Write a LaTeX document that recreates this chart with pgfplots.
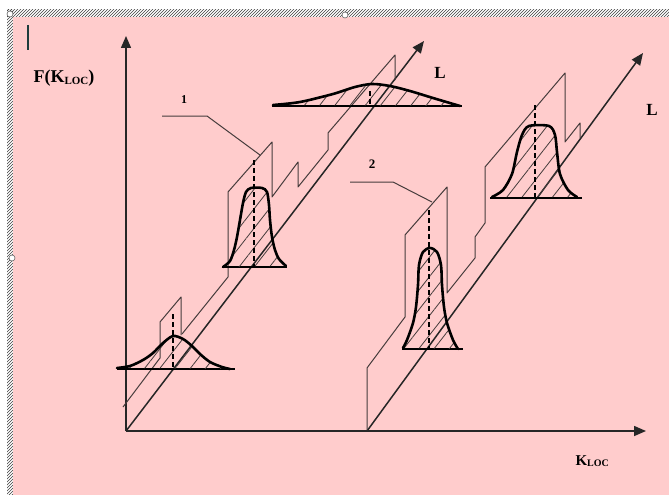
\documentclass[border=0pt]{standalone}
\usepackage{fontspec}
\setmainfont{Liberation Serif}
\usepackage{pgfplots}
\pgfplotsset{compat=1.18}
\usetikzlibrary{arrows.meta,patterns,patterns.meta}
\definecolor{bgpink}{RGB}{255,204,204}
\definecolor{thin}{RGB}{70,60,60}
\definecolor{cursorc}{RGB}{30,60,60}

\begin{document}
\begin{tikzpicture}
\begin{axis}[
  width=669pt, height=495pt, scale only axis,
  xmin=0, xmax=669, ymin=0, ymax=495, y dir=reverse,
  hide axis, clip=false,
  plate/.style={draw=thin, line width=1pt, line join=round},
  bell/.style={draw=black, line width=2.6pt, smooth, tension=0.5, line cap=round,
    pattern={Lines[angle=52,distance=12pt,line width=0.8pt]}, pattern color=thin},
  base/.style={draw=black, line width=1.2pt},
  peak/.style={draw=black, line width=1.7pt, dash pattern=on 5pt off 3pt},
  ax/.style={draw=black!85, line width=1.5pt, -{Triangle[length=12pt,width=10pt]}},
]
% page and frame
\addplot[fill=white, draw=none] coordinates {(0,0) (669,0) (669,495) (0,495)};
\addplot[fill=white, draw=none, pattern=north east lines, pattern color=black!75] coordinates {(7,10) (669,10) (669,17) (7,17)};
\addplot[fill=white, draw=none, pattern=north east lines, pattern color=black!75] coordinates {(7,10) (13,10) (13,495) (7,495)};
\addplot[fill=bgpink, draw=none] coordinates {(13,17) (669,17) (669,495) (13,495)};
\addplot[only marks, mark=*, mark size=3pt, mark options={fill=white, draw=black!60, line width=0.6pt}] coordinates {(345,15) (12,258) (10,14)};
% text cursor
\addplot[draw=cursorc, line width=1.6pt] coordinates {(28,25) (28,50)};

% axes
\addplot[ax] coordinates {(126,431) (126,36)};
\addplot[ax] coordinates {(126,431) (646,431)};
\addplot[ax] coordinates {(126,431) (424,41)};
\addplot[ax] coordinates {(367,431) (643,53)};

% plates, left group
\addplot[plate] coordinates {(123,407) (160,358) (160,322) (181,297) (181,335)};
\addplot[plate] coordinates {(182,334) (228,277) (228,192) (272,142) (272,197) (298,162) (298,187) (328,150) (328,133) (395,55) (395,80)};
% plates, right group
\addplot[plate] coordinates {(367,430) (367,368) (405,317) (405,235) (447,187) (447,293) (475,258) (475,237) (485,223) (485,167) (565,73) (565,142) (580,123) (580,138)};
% leader lines
\addplot[plate] coordinates {(162,116) (207,116) (260,155)};
\addplot[plate] coordinates {(350,182) (393,182) (432,202)};

% distribution bases
\addplot[base] coordinates {(117,369) (235,369)};
\addplot[base] coordinates {(223,267) (287,267)};
\addplot[base] coordinates {(272,106) (462,106)};
\addplot[base] coordinates {(402,349) (463,349)};
\addplot[base] coordinates {(490,198) (582,198)};

% distributions
\addplot[bell] coordinates {(117,368) (130,366) (143,360) (153,353) (163,343) (173,336) (183,339) (192,346) (200,354) (210,362) (222,367) (230,369)};
\addplot[bell] coordinates {(223,267) (230,261) (234,250) (237,237) (240,220) (243,203) (246,192) (251,188) (262,188) (267,192) (269,205) (270,220) (272,237) (275,250) (279,259) (286,266)};
\addplot[bell] coordinates {(273,105) (300,102) (333,94) (355,87) (372,84) (390,86) (410,91) (433,98) (460,106)};
\addplot[bell] coordinates {(403,348) (407,340) (413,323) (416,307) (418,285) (419,265) (423,252) (430,248) (437,252) (441,265) (442,285) (444,307) (447,323) (453,340) (458,349)};
\addplot[bell] coordinates {(492,197) (503,190) (512,174) (517,152) (522,135) (529,126) (549,126) (555,135) (557,152) (560,174) (568,190) (577,197)};

% centre lines
\addplot[peak] coordinates {(173,314) (173,370)};
\addplot[peak] coordinates {(254,160) (254,267)};
\addplot[peak] coordinates {(370,91) (370,107)};
\addplot[peak] coordinates {(429,210) (429,349)};
\addplot[peak] coordinates {(535,105) (535,198)};

% labels
\node[anchor=base west, font=\fontsize{18}{20}\selectfont\bfseries] at (axis cs:30,82) {F(K\raisebox{-2.5pt}{\fontsize{11}{12}\selectfont LOC})};
\node[anchor=base west, font=\fontsize{15}{17}\selectfont\bfseries] at (axis cs:572,465) {K\raisebox{-1pt}{\fontsize{10}{12}\selectfont LOC}};
\node[font=\fontsize{17}{19}\selectfont\bfseries] at (axis cs:440,73) {L};
\node[font=\fontsize{17}{19}\selectfont\bfseries] at (axis cs:652,110) {L};
\node[font=\fontsize{12}{14}\selectfont\bfseries] at (axis cs:184,100) {1};
\node[font=\fontsize{13}{15}\selectfont\bfseries] at (axis cs:372,164) {2};
\end{axis}
\end{tikzpicture}
\end{document}
